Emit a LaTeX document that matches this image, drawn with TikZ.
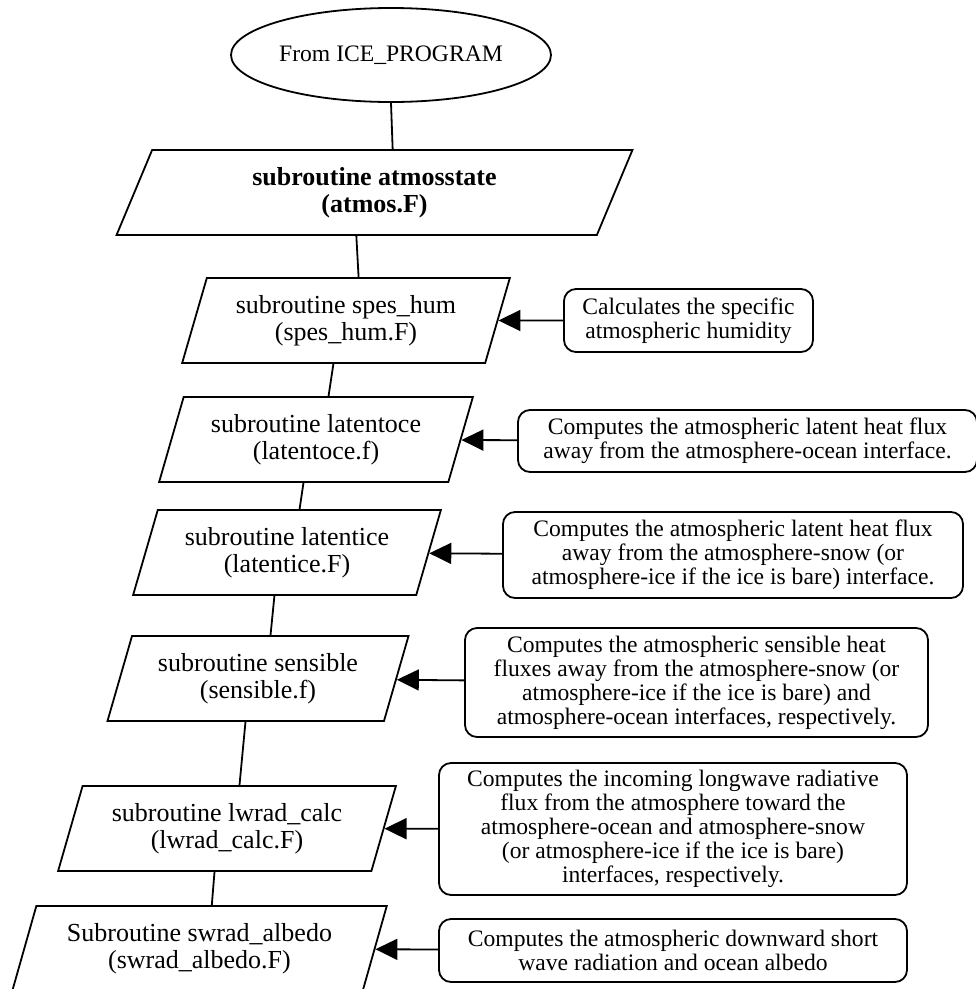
\documentclass[tikz,border=0pt]{standalone}
\usepackage{fontspec}
\setmainfont{Liberation Serif}
\usetikzlibrary{shapes,arrows.meta}

\begin{document}
\begin{tikzpicture}[x=1pt,y=-1pt]
\tikzstyle{proc} = [trapezium, trapezium left angle=70, trapezium right angle=110, trapezium stretches=true, draw, line width=1.8pt, minimum height=85pt, inner sep=2pt, align=center, font=\fontsize{26}{27}\selectfont]
\tikzstyle{note} = [rectangle, rounded corners=12pt, draw, line width=1.8pt, inner sep=0pt, align=center, font=\fontsize{23.6}{24}\selectfont]
\tikzstyle{link} = [line width=1.8pt]
\tikzstyle{feed} = [line width=1.8pt, -{Triangle[length=22pt,width=21pt]}]
\useasboundingbox (0,0) rectangle (976,989);
\node[ellipse, draw, line width=1.8pt, minimum width=320pt, minimum height=94pt, inner sep=0pt, font=\fontsize{23.6}{24}\selectfont] (ice) at (391,55) {From ICE\_PROGRAM};
\node[proc, minimum width=517pt, font=\fontsize{26}{27}\selectfont\bfseries] (atm) at (374.5,192.5) {subroutine atmosstate\\(atmos.F)};
\node[proc, minimum width=328pt] (spes) at (346,320.5) {subroutine spes\_hum\\(spes\_hum.F)};
\node[proc, minimum width=314pt] (latoce) at (316,439.5) {subroutine latentoce\\(latentoce.f)};
\node[proc, minimum width=308pt] (latice) at (287,552.5) {subroutine latentice\\(latentice.F)};
\node[proc, minimum width=302pt] (sens) at (258,678.5) {subroutine sensible\\(sensible.f)};
\node[proc, minimum width=338pt] (lwrad) at (227,828.5) {subroutine lwrad\_calc\\(lwrad\_calc.F)};
\node[proc, minimum width=375pt] (swrad) at (199.5,948.5) {Subroutine swrad\_albedo\\(swrad\_albedo.F)};
\node[note, minimum width=249pt, minimum height=63pt] (spesnote) at (688.5,320.5) {Calculates the specific\\atmospheric humidity};
\node[note, minimum width=459pt, minimum height=62pt] (ocenote) at (747.5,441) {Computes the atmospheric latent heat flux\\away from the atmosphere-ocean interface.};
\node[note, minimum width=460pt, minimum height=86pt] (icenote) at (733,555) {Computes the atmospheric latent heat flux\\away from the atmosphere-snow (or\\atmosphere-ice if the ice is bare) interface.};
\node[note, minimum width=463pt, minimum height=109pt] (sensnote) at (696.5,682.5) {Computes the atmospheric sensible heat\\fluxes away from the atmosphere-snow (or\\atmosphere-ice if the ice is bare) and\\atmosphere-ocean interfaces, respectively.};
\node[note, minimum width=468pt, minimum height=132pt] (lwnote) at (673,829) {Computes the incoming longwave radiative\\flux from the atmosphere toward the\\atmosphere-ocean and atmosphere-snow\\(or atmosphere-ice if the ice is bare)\\interfaces, respectively.};
\node[note, minimum width=468pt, minimum height=63pt] (swnote) at (673,950.5) {Computes the atmospheric downward short\\wave radiation and ocean albedo};
\draw[link] (ice.south) -- (atm.top side);
\draw[link] (atm.bottom side) -- (spes.top side);
\draw[link] (spes.bottom side) -- (latoce.top side);
\draw[link] (latoce.bottom side) -- (latice.top side);
\draw[link] (latice.bottom side) -- (sens.top side);
\draw[link] (sens.bottom side) -- (lwrad.top side);
\draw[link] (lwrad.bottom side) -- (swrad.top side);
\draw[feed] (spesnote) -- (spes);
\draw[feed] (ocenote) -- (latoce);
\draw[feed] (icenote) -- (latice);
\draw[feed] (sensnote) -- (sens);
\draw[feed] (lwnote) -- (lwrad);
\draw[feed] (swnote) -- (swrad);
\end{tikzpicture}
\end{document}
